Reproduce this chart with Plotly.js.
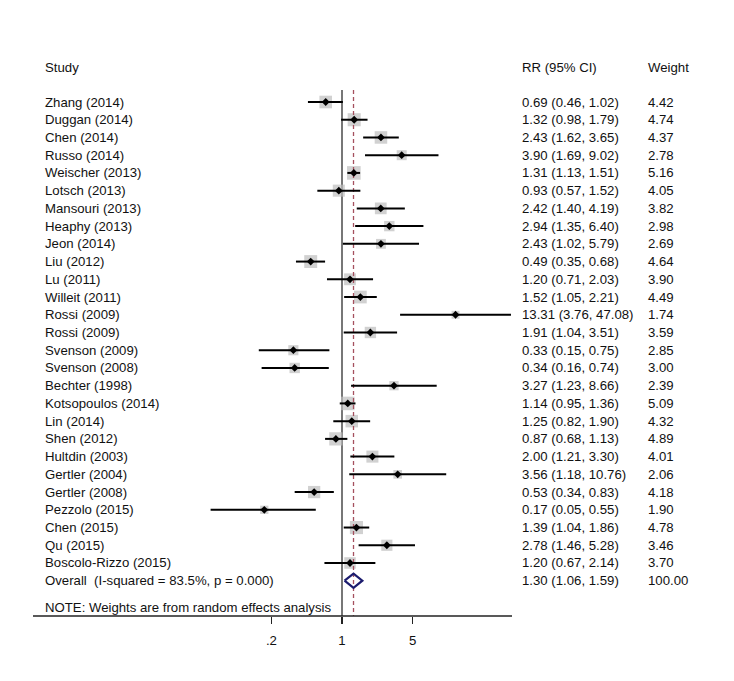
<!DOCTYPE html>
<html>
<head>
<meta charset="utf-8">
<script src="https://cdn.plot.ly/plotly-3.0.1.min.js"></script>
<style>html,body{margin:0;padding:0;background:#fff;}#chart{width:734px;height:681px;}</style>
</head>
<body>
<div id="chart"></div>
<script>
const studies = ["Zhang (2014)","Duggan (2014)","Chen (2014)","Russo (2014)","Weischer (2013)","Lotsch (2013)","Mansouri (2013)","Heaphy (2013)","Jeon (2014)","Liu (2012)","Lu (2011)","Willeit (2011)","Rossi (2009)","Rossi (2009)","Svenson (2009)","Svenson (2008)","Bechter (1998)","Kotsopoulos (2014)","Lin (2014)","Shen (2012)","Hultdin (2003)","Gertler (2004)","Gertler (2008)","Pezzolo (2015)","Chen (2015)","Qu (2015)","Boscolo-Rizzo (2015)"];
const rr    = [0.69,1.32,2.43,3.90,1.31,0.93,2.42,2.94,2.43,0.49,1.20,1.52,13.31,1.91,0.33,0.34,3.27,1.14,1.25,0.87,2.00,3.56,0.53,0.17,1.39,2.78,1.20];
const lower = [0.46,0.98,1.62,1.69,1.13,0.57,1.40,1.35,1.02,0.35,0.71,1.05,3.76,1.04,0.15,0.16,1.23,0.95,0.82,0.68,1.21,1.18,0.34,0.05,1.04,1.46,0.67];
const upper = [1.02,1.79,3.65,9.02,1.51,1.52,4.19,6.40,5.79,0.68,2.03,2.21,47.08,3.51,0.75,0.74,8.66,1.36,1.90,1.13,3.30,10.76,0.83,0.55,1.86,5.28,2.14];
const weight = [4.42,4.74,4.37,2.78,5.16,4.05,3.82,2.98,2.69,4.64,3.90,4.49,1.74,3.59,2.85,3.00,2.39,5.09,4.32,4.89,4.01,2.06,4.18,1.90,4.78,3.46,3.70];
const overallLabel = "Overall  (I-squared = 83.5%, p = 0.000)";
const overall = {rr:1.30, lower:1.06, upper:1.59, weight:"100.00"};
const noteText = "NOTE: Weights are from random effects analysis";
const headers = ["Study","RR (95% CI)","Weight"];
const tickVals = [0.2,1,5];
const tickText = [".2","1","5"];

const W = 734, H = 681;
const FONT = "Liberation Sans, Arial, sans-serif";
const FS = 13.2;
const n = studies.length;
const idx = studies.map((_, i) => i);
const overallRow = n;

const ciX = [], ciY = [];
for (let i = 0; i < n; i++) { ciX.push(lower[i], upper[i], null); ciY.push(i, i, null); }

const traces = [];
traces.push({x:[1,1], y:[-0.68, 28.99], mode:'lines', line:{color:'#4a4a4a', width:1.5}, hoverinfo:'skip', showlegend:false});
traces.push({x:rr, y:idx, mode:'markers', marker:{symbol:'square', size:weight.map(w => 6*Math.sqrt(w)), color:'#bdbdbd', line:{width:0}}, hoverinfo:'skip', showlegend:false});
traces.push({x:[overall.rr, overall.rr], y:[-0.68, 28.99], mode:'lines', line:{color:'#a5505e', width:1.3, dash:'4px,3px'}, hoverinfo:'skip', showlegend:false});
traces.push({x:ciX, y:ciY, mode:'lines', line:{color:'#000', width:2}, hoverinfo:'skip', showlegend:false});
traces.push({x:rr, y:idx, mode:'markers', marker:{symbol:'diamond', size:6, color:'#000'}, hoverinfo:'skip', showlegend:false});
traces.push({x:[overall.lower, overall.rr, overall.upper, overall.rr, overall.lower],
             y:[overallRow, overallRow-0.4, overallRow, overallRow+0.4, overallRow],
             mode:'lines', line:{color:'#1c1c6e', width:2.2}, fill:'toself', fillcolor:'rgba(255,255,255,0)', hoverinfo:'skip', showlegend:false});

const ann = [];
const colX = {study:43, ci:520, w:646};
const txt = (px, y, t) => ({xref:'paper', yref:'y', x:px/W, y:y, text:t, showarrow:false, xanchor:'left', yanchor:'middle', font:{family:FONT, size:FS, color:'#111'}});
ann.push(txt(colX.study, -1.97, headers[0]));
ann.push(txt(colX.ci, -1.97, headers[1]));
ann.push(txt(colX.w, -1.97, headers[2]));
for (let i = 0; i < n; i++) {
  ann.push(txt(colX.study, i, studies[i]));
  ann.push(txt(colX.ci, i, rr[i].toFixed(2) + " (" + lower[i].toFixed(2) + ", " + upper[i].toFixed(2) + ")"));
  ann.push(txt(colX.w, i, weight[i].toFixed(2)));
}
ann.push(txt(colX.study, overallRow, overallLabel));
ann.push(txt(colX.ci, overallRow, overall.rr.toFixed(2) + " (" + overall.lower.toFixed(2) + ", " + overall.upper.toFixed(2) + ")"));
ann.push(txt(colX.w, overallRow, overall.weight));
ann.push(txt(colX.study, 28.5, noteText));

const k = 101, x0 = 342;
const layout = {
  width: W, height: H,
  margin: {l:0, r:0, t:0, b:65},
  paper_bgcolor:'#fff', plot_bgcolor:'#fff',
  xaxis: {type:'log', range:[(0 - x0)/k, (W - x0)/k], showgrid:false, zeroline:false, showline:false,
          tickvals: tickVals, ticktext: tickText, ticks:'outside', ticklen:7, tickwidth:1.5, tickcolor:'#222',
          ticklabelstandoff: 5,
          tickfont:{family:FONT, size:FS, color:'#111'}, fixedrange:true},
  yaxis: {range:[28.99, -5.753], showgrid:false, zeroline:false, showline:false, showticklabels:false, ticks:'', fixedrange:true},
  shapes: [{type:'line', xref:'paper', yref:'paper', x0:33/W, x1:512/W, y0:0, y1:0, line:{color:'#222', width:1.5}}],
  annotations: ann,
  showlegend:false
};
Plotly.newPlot('chart', traces, layout, {displayModeBar:false, staticPlot:true});
</script>
</body>
</html>
